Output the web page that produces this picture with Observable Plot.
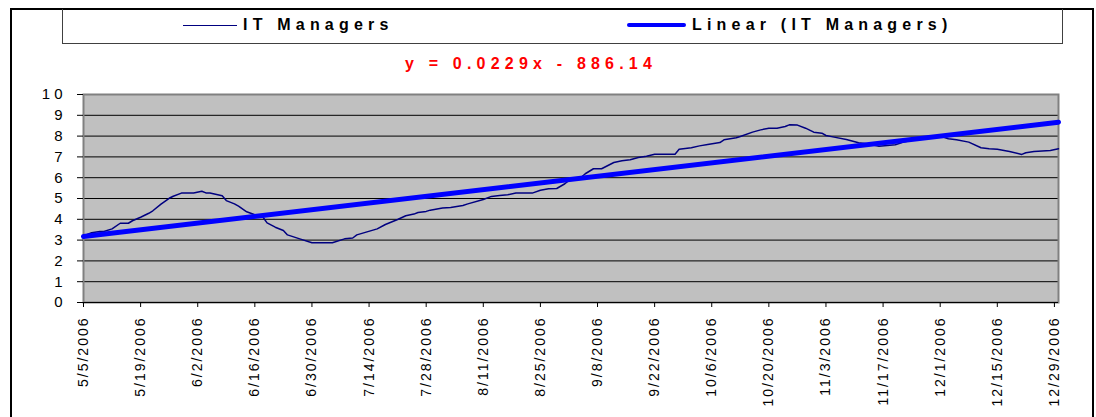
<!DOCTYPE html>
<html><head><meta charset="utf-8">
<script src="https://cdn.jsdelivr.net/npm/d3@7"></script>
<script src="https://cdn.jsdelivr.net/npm/@observablehq/plot@0.6"></script>
<style>
html,body{margin:0;padding:0;background:#fff;}
#wrap{position:relative;width:1096px;height:417px;overflow:hidden;font-family:"Liberation Sans",Arial,sans-serif;}
#frame{position:absolute;left:10px;top:8px;width:1080px;height:430px;border:2px solid #000;border-bottom:none;}
#legend{position:absolute;left:62px;top:9px;width:999px;height:34px;border:1px solid #404040;border-top:none;}
.item{position:absolute;top:8px;height:34px;display:flex;align-items:center;font-weight:bold;font-size:16px;letter-spacing:5.2px;color:#000;white-space:nowrap;}
.sw1{display:inline-block;width:54px;height:0;border-top:1.5px solid #000080;margin-right:6px;}
.sw2{display:inline-block;width:59px;height:4px;background:#0000ff;border-radius:2px;margin-right:6px;}
#eq{position:absolute;left:331px;width:400px;top:53px;height:21px;line-height:21px;text-align:center;color:#ff0000;font-weight:bold;font-size:16px;letter-spacing:5.2px;white-space:nowrap;}
#chart{position:absolute;left:0;top:77px;}
#chart svg text{letter-spacing:2px;}
#chart g[aria-label="text"] text{letter-spacing:4px;}
</style>
</head><body>
<div id="wrap">
  <div id="frame"></div>
  <div id="legend"></div>
  <div class="item" id="leg1" style="left:183px"><span class="sw1"></span><span id="leg1t"></span></div>
  <div class="item" id="leg2" style="left:627px"><span class="sw2"></span><span id="leg2t"></span></div>
  <div id="eq"></div>
  <div id="chart"></div>
</div>
<script>
// ---- data ----
const seriesName = "IT Managers";
const trendName = "Linear (IT Managers)";
const equationText = "y = 0.0229x - 886.14";

const dates = [
"2006-05-05","2006-05-07","2006-05-09","2006-05-10","2006-05-12","2006-05-14","2006-05-16","2006-05-17","2006-05-19","2006-05-21",
"2006-05-22","2006-05-24","2006-05-26","2006-05-27","2006-05-29","2006-06-01","2006-06-03","2006-06-04","2006-06-05","2006-06-08",
"2006-06-09","2006-06-11","2006-06-12","2006-06-14","2006-06-16","2006-06-18","2006-06-19","2006-06-21","2006-06-23","2006-06-24",
"2006-06-27","2006-06-30","2006-07-04","2006-07-05","2006-07-08","2006-07-10","2006-07-11","2006-07-16","2006-07-18","2006-07-21",
"2006-07-23","2006-07-25","2006-07-26","2006-07-28","2006-07-29","2006-08-01","2006-08-03","2006-08-06","2006-08-07","2006-08-11",
"2006-08-13","2006-08-15","2006-08-17","2006-08-19","2006-08-23","2006-08-25","2006-08-27","2006-08-29","2006-08-31","2006-09-01",
"2006-09-04","2006-09-05","2006-09-07","2006-09-09","2006-09-12","2006-09-14","2006-09-16","2006-09-18","2006-09-20","2006-09-22",
"2006-09-27","2006-09-28","2006-10-01","2006-10-03","2006-10-05","2006-10-08","2006-10-09","2006-10-12","2006-10-13","2006-10-16",
"2006-10-18","2006-10-20","2006-10-22","2006-10-24","2006-10-25","2006-10-27","2006-10-29","2006-10-31","2006-11-02","2006-11-03",
"2006-11-05","2006-11-08","2006-11-11","2006-11-13","2006-11-16","2006-11-20","2006-11-22","2006-11-25","2006-11-28","2006-12-01",
"2006-12-03","2006-12-05","2006-12-08","2006-12-11","2006-12-13","2006-12-15","2006-12-18","2006-12-21","2006-12-22","2006-12-24",
"2006-12-28","2006-12-30"];
const values = [
3.20,3.35,3.41,3.41,3.54,3.81,3.81,3.93,4.10,4.29,
4.41,4.73,5.01,5.11,5.26,5.26,5.35,5.27,5.26,5.13,
4.90,4.74,4.63,4.36,4.22,4.10,3.83,3.62,3.46,3.25,
3.06,2.87,2.87,2.87,3.06,3.10,3.25,3.54,3.75,3.99,
4.17,4.25,4.33,4.38,4.44,4.54,4.57,4.66,4.73,4.95,
5.10,5.14,5.18,5.26,5.26,5.40,5.47,5.48,5.71,5.87,
6.02,6.19,6.43,6.43,6.73,6.81,6.86,6.97,7.03,7.13,
7.13,7.37,7.44,7.53,7.60,7.69,7.82,7.92,7.98,8.19,
8.30,8.38,8.38,8.46,8.54,8.53,8.38,8.19,8.14,8.03,
7.95,7.84,7.68,7.63,7.51,7.58,7.71,7.84,7.98,8.00,
7.87,7.82,7.71,7.44,7.39,7.37,7.26,7.12,7.20,7.26,
7.31,7.39];

const trendDates = ["2006-05-05","2006-12-30"];
const trendValues = [3.17, 8.67];

const xTickLabels = ["5/5/2006","5/19/2006","6/2/2006","6/16/2006","6/30/2006","7/14/2006","7/28/2006","8/11/2006","8/25/2006",
"9/8/2006","9/22/2006","10/6/2006","10/20/2006","11/3/2006","11/17/2006","12/1/2006","12/15/2006","12/29/2006"];
const yTicks = [0,1,2,3,4,5,6,7,8,9,10];
const gridTicks = [1,2,3,4,5,6,7,8,9];
const xDomain = ["2006-05-05","2006-12-30"];

// ---- build ----
document.getElementById("leg1t").textContent = seriesName;
document.getElementById("leg2t").textContent = trendName;
document.getElementById("eq").textContent = equationText;

const parse = d3.utcParse("%Y-%m-%d");
const parseTick = d3.utcParse("%m/%d/%Y");
const series = dates.map((d, i) => ({date: parse(d), value: values[i]}));
const trend = trendDates.map((d, i) => ({date: parse(d), value: trendValues[i]}));
const tickDates = xTickLabels.map(parseTick);
const fmt = d3.utcFormat("%-m/%-d/%Y");

const chart = Plot.plot({
  width: 1096,
  height: 340,
  marginTop: 17,
  marginBottom: 115,
  marginLeft: 83,
  marginRight: 38,
  x: {type: "utc", domain: xDomain.map(parse)},
  y: {domain: [0, 10]},
  style: {fontFamily: "'Liberation Sans', Arial, sans-serif", fontSize: "14px", color: "#000", background: "transparent", overflow: "visible"},
  marks: [
    Plot.frame({fill: "#c0c0c0", stroke: null}),
    Plot.gridY(gridTicks, {stroke: "#000", strokeOpacity: 1, strokeWidth: 1}),
    Plot.frame({stroke: "#808080", strokeWidth: 2}),
    Plot.ruleY([0], {stroke: "#000", strokeWidth: 1}),
    Plot.axisY(yTicks, {tickSize: 6, tickFormat: () => "", label: null, stroke: "#000"}),
    Plot.text(yTicks, {y: d => d, text: d => String(d), frameAnchor: "left", textAnchor: "end", dx: -17, fontSize: 15, fill: "#000"}),
    Plot.axisX(tickDates, {tickRotate: -90, tickSize: 5, tickPadding: 9, tickFormat: fmt, label: null, stroke: "#000"}),
    Plot.line(series, {x: "date", y: "value", stroke: "#000080", strokeWidth: 1.5}),
    Plot.line(trend, {x: "date", y: "value", stroke: "#0000ff", strokeWidth: 5})
  ]
});
document.getElementById("chart").appendChild(chart);
</script>
</body></html>
